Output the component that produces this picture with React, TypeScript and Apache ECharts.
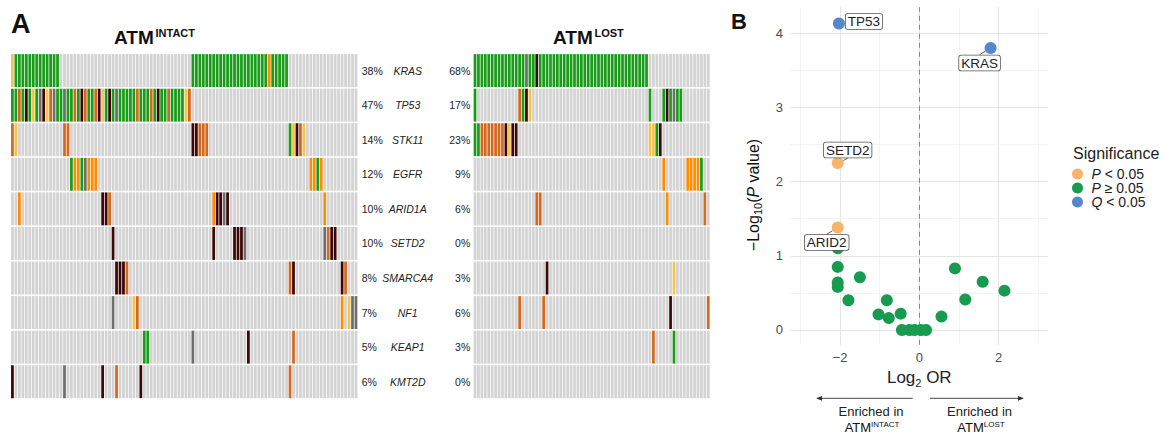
import React, { useEffect, useRef } from 'react';
import * as echarts from 'echarts';

// ---------------- Panel A data ----------------
const GENES = ['KRAS', 'TP53', 'STK11', 'EGFR', 'ARID1A', 'SETD2', 'SMARCA4', 'NF1', 'KEAP1', 'KMT2D'];
const PCT_INTACT = ['38%', '47%', '14%', '12%', '10%', '10%', '8%', '7%', '5%', '6%'];
const PCT_LOST = ['68%', '17%', '23%', '9%', '6%', '0%', '3%', '6%', '3%', '0%'];
const N_INTACT = 100;
const N_LOST = 69;
// mutation runs per gene: "col[-col]:code"  g=green o=orange d=dark orange y=yellow k=dark brown x=grey
const MUT_INTACT = [
  '0:y 1-13:g 52-73:g 74:o 75-79:g',
  '0-1:g 2:d 3:g 4:k 5:g 6:y 7:g 8:x 9:k 10:y 11:d 12:x 13-14:g 15:x 16-17:g 18:d 19:g 20:k 21:d 22-23:g 24:d 25:k 26:y 27:g 28:k 29:g 30:x 31-35:g 36:d 37-39:g 40:d 41:g 42:k 43-44:g 45:d 46-49:g 50:y 51:d',
  '0:d 1:y 15-16:d 52-53:k 54-56:d 80:g 81:y 82:k 83:d 84:y',
  '17:g 18-19:o 20:g 21:x 22-24:o 86-87:o 88:g 89:o',
  '2:o 26-27:k 28:d 58:o 59-60:k 61:x 62:k 90:o',
  '29:k 58:k 64-66:k 67:x 90:x 91:d 92-93:k',
  '30-32:k 33:d 80:d 81:k 95:k 96:d',
  '29:x 35:y 36:d 95:o 97:y 98-99:x',
  '38-39:g 52:x 68:k 81:d',
  '0:k 15:x 26:k 30:d 37:k 80:d',
];
const MUT_LOST = [
  '0-14:g 15:x 16-17:g 18:k 19-50:g',
  '0:g 13:d 14:g 15:k 16:y 51:g 55:g 56:k 57:g 58:x 59-60:g',
  '0-1:g 2-8:d 9:k 10:y 11-12:k 51-52:y 53:g 54:k',
  '55:o 62-65:o 66:g',
  '18-19:d 56:o 67:d',
  '',
  '21:k 58:y',
  '13:d 20:d 57:k 68:d',
  '52:d 58:g',
  '',
];
const CODES = ['.', 'g', 'o', 'd', 'y', 'k', 'x'];
const PALETTE = ['#d3d3d3', '#1a9c1a', '#ff8c00', '#d2691e', '#f3c452', '#3b0707', '#6e6e6e'];

// ---------------- Panel B data ----------------
const BLUE_NAMES = ['TP53', 'KRAS'];
const BLUE_LOG2OR = [-2.03, 1.8];
const BLUE_NLOGP = [4.13, 3.8];
const ORANGE_NAMES = ['SETD2', 'ARID2'];
const ORANGE_LOG2OR = [-2.06, -2.06];
const ORANGE_NLOGP = [2.25, 1.38];
const GREEN_LOG2OR = [-2.06, -2.06, -2.06, -2.06, -1.5, -1.79, -1.03, -0.82, -0.77, -0.47, -0.44, -0.25, -0.12, 0.04, 0.17, 0.56, 0.9, 1.16, 1.6, 2.15];
const GREEN_NLOGP = [1.1, 0.85, 0.64, 0.58, 0.71, 0.4, 0.21, 0.4, 0.16, 0.22, 0, 0, 0, 0, 0, 0.18, 0.83, 0.41, 0.65, 0.53];
const X_TICKS = [-2, 0, 2];
const Y_TICKS = [0, 1, 2, 3, 4];
const X_MAJOR = [-2, 0, 2];
const X_MINOR = [-3, -1, 1, 3];
const Y_MAJOR = [0, 1, 2, 3, 4];
const Y_MINOR = [0.5, 1.5, 2.5, 3.5];
const SERIES_NAMES = ['P < 0.05', 'P \u2265 0.05', 'Q < 0.05'];

const LABEL_SHIFT: Record<string, [number, number]> = {
  TP53: [25, -2],
  KRAS: [-11, 15],
  SETD2: [10, -13],
  ARID2: [-11, 15],
};

const FONT = 'Liberation Sans, Arial, Helvetica, sans-serif';

function buildCells(runs: string[], n: number) {
  const out: number[][] = [];
  runs.forEach((spec, row) => {
    const codes: number[] = new Array(n).fill(0);
    spec.split(/\s+/).filter(Boolean).forEach((tok) => {
      const [range, c] = tok.split(':');
      const parts = range.split('-').map(Number);
      const a = parts[0];
      const b = parts.length > 1 ? parts[1] : a;
      for (let i = a; i <= b; i++) codes[i] = CODES.indexOf(c);
    });
    codes.forEach((k, col) => out.push([col, row, k]));
  });
  return out;
}

const renderCell = (params: any, api: any) => {
  const col = api.value(0);
  const row = api.value(1);
  const k = api.value(2);
  const p = api.coord([col, row]);
  const s = api.size([1, 1]);
  return {
    type: 'rect',
    shape: { x: p[0] - s[0] / 2 + 0.35, y: p[1] - s[1] / 2 + 0.8, width: s[0] - 0.7, height: s[1] - 1.6 },
    style: { fill: PALETTE[k] },
  };
};

const fmtNum = (r: number) => (r < 0 ? '\u2212' + String(-r) : String(r));

function txt(x: number, y: number, text: string, size: number, opts: any = {}) {
  return {
    type: 'text',
    x,
    y,
    rotation: opts.rotation || 0,
    silent: true,
    style: {
      text,
      fontSize: size,
      fontFamily: FONT,
      fontWeight: opts.bold ? 'bold' : 'normal',
      fill: opts.color || '#111',
      align: opts.align || 'left',
      textAlign: opts.align || 'left',
      verticalAlign: 'middle',
      textVerticalAlign: 'middle',
      lineHeight: opts.lineHeight,
      rich: opts.rich,
    },
  };
}

function arrow(x1: number, x2: number, y: number) {
  const dir = x2 > x1 ? 1 : -1;
  return [
    { type: 'line', silent: true, shape: { x1, y1: y, x2: x2 - dir * 4, y2: y }, style: { stroke: '#333', lineWidth: 0.9 } },
    {
      type: 'polygon',
      silent: true,
      shape: { points: [[x2, y], [x2 - dir * 6, y - 2.4], [x2 - dir * 6, y + 2.4]] },
      style: { fill: '#333' },
    },
  ];
}

const supRich = {
  a: { fontSize: 13, lineHeight: 13, fontFamily: FONT, color: '#111' },
  s: { fontSize: 8, lineHeight: 8, verticalAlign: 'top', fontFamily: FONT, color: '#111' },
};

const yNameRich = {
  a: { fontSize: 16, lineHeight: 20, color: '#222', fontFamily: FONT },
  i: { fontSize: 16, lineHeight: 20, color: '#222', fontStyle: 'italic', fontFamily: FONT },
  s: { fontSize: 11, lineHeight: 9, verticalAlign: 'bottom', color: '#222', fontFamily: FONT },
};

export default function App() {
  const ref = useRef<HTMLDivElement>(null);
  useEffect(() => {
    const chart = echarts.init(ref.current!, null, { renderer: 'svg' });
    const cellsIntact = buildCells(MUT_INTACT, N_INTACT);
    const cellsLost = buildCells(MUT_LOST, N_LOST);

    const gridLineData: any[] = [
      ...X_MINOR.map((v) => ({ xAxis: v, lineStyle: { color: '#f0f0f0', width: 0.8, type: 'solid' } })),
      ...X_MAJOR.map((v) => ({ xAxis: v, lineStyle: { color: '#e5e5e5', width: 1, type: 'solid' } })),
      ...Y_MINOR.map((v) => ({ yAxis: v, lineStyle: { color: '#f0f0f0', width: 0.8, type: 'solid' } })),
      ...Y_MAJOR.map((v) => ({ yAxis: v, lineStyle: { color: '#e5e5e5', width: 1, type: 'solid' } })),
      { xAxis: 0, lineStyle: { color: '#888', width: 1, type: [5, 4] } },
    ];

    const labelCfg = {
      show: true,
      position: 'inside',
      formatter: '{b}',
      fontSize: 13.5,
      fontFamily: FONT,
      color: '#222',
      backgroundColor: '#fff',
      borderColor: '#555',
      borderWidth: 0.8,
      borderRadius: 2,
      padding: [1, 2, 0, 2],
      lineHeight: 14,
    };
    const labelLayout = (p: any) => {
      const sh = LABEL_SHIFT[p.text] || [0, 0];
      return { dx: sh[0], dy: sh[1] };
    };

    const option: any = {
      animation: false,
      backgroundColor: '#fff',
      textStyle: { fontFamily: FONT },
      grid: [
        { left: 10.7, top: 53.3, width: 347, height: 345.7, outerBoundsMode: 'none' },
        { left: 473.3, top: 53.3, width: 236.7, height: 345.7, outerBoundsMode: 'none' },
        { left: 790.6, top: 7.2, width: 257.4, height: 337.6, outerBoundsMode: 'none' },
      ],
      xAxis: [
        { gridIndex: 0, type: 'value', min: -0.5, max: N_INTACT - 0.5, show: false },
        { gridIndex: 1, type: 'value', min: -0.5, max: N_LOST - 0.5, show: false },
        {
          gridIndex: 2,
          type: 'value',
          min: -3.25,
          max: 3.25,
          interval: 0.25,
          axisLine: { show: false },
          axisTick: { show: false },
          splitLine: { show: false },
          axisLabel: {
            margin: 6,
            fontSize: 13,
            color: '#4d4d4d',
            formatter: (v: number) => {
              const r = Math.round(v * 1000) / 1000;
              return X_TICKS.indexOf(r) >= 0 ? fmtNum(r) : '';
            },
          },
          name: '{a|Log}{s|2}{a| OR}',
          nameLocation: 'middle',
          nameGap: 22,
          nameTextStyle: {
            color: '#222',
            rich: {
              a: { fontSize: 17, lineHeight: 22, color: '#222', fontFamily: FONT },
              s: { fontSize: 11, lineHeight: 10, verticalAlign: 'bottom', color: '#222', fontFamily: FONT },
            },
          },
        },
      ],
      yAxis: [
        {
          gridIndex: 0,
          type: 'category',
          data: GENES,
          inverse: true,
          position: 'right',
          axisLine: { show: false },
          axisTick: { show: false },
          splitLine: { show: false },
          axisLabel: {
            interval: 0,
            margin: 4,
            formatter: (v: string) => `{p|${PCT_INTACT[GENES.indexOf(v)]}}{g|${v}}`,
            rich: {
              p: { width: 24, fontSize: 10.5, color: '#222', align: 'left', fontFamily: FONT },
              g: { width: 44, fontSize: 10.5, fontStyle: 'italic', color: '#222', align: 'center', fontFamily: FONT },
            },
          },
        },
        {
          gridIndex: 1,
          type: 'category',
          data: GENES,
          inverse: true,
          position: 'left',
          axisLine: { show: false },
          axisTick: { show: false },
          splitLine: { show: false },
          axisLabel: {
            interval: 0,
            margin: 3,
            fontSize: 10.5,
            color: '#222',
            formatter: (v: string) => PCT_LOST[GENES.indexOf(v)],
          },
        },
        {
          gridIndex: 2,
          type: 'value',
          min: -0.2,
          max: 4.35,
          interval: 0.05,
          axisLine: { show: false },
          axisTick: { show: false },
          splitLine: { show: false },
          axisLabel: {
            margin: 7.5,
            fontSize: 13,
            color: '#4d4d4d',
            formatter: (v: number) => {
              const r = Math.round(v * 1000) / 1000;
              return Y_TICKS.indexOf(r) >= 0 ? String(r) : '';
            },
          },
        },
      ],
      legend: {
        data: SERIES_NAMES,
        orient: 'vertical',
        left: 1072,
        top: 167,
        padding: 0,
        itemWidth: 18,
        itemHeight: 11,
        itemGap: 0,
        icon: 'circle',
        selectedMode: false,
        formatter: (name: string) => `{i|${name[0]}}{n|${name.slice(1)}}`,
        textStyle: {
          color: '#222',
          rich: {
            i: { fontStyle: 'italic', fontSize: 14, lineHeight: 14, color: '#222', fontFamily: FONT },
            n: { fontSize: 14, lineHeight: 14, color: '#222', fontFamily: FONT },
          },
        },
      },
      series: [
        {
          type: 'custom',
          xAxisIndex: 0,
          yAxisIndex: 0,
          data: cellsIntact,
          encode: { x: 0, y: 1 },
          renderItem: renderCell,
          silent: true,
        },
        {
          type: 'custom',
          xAxisIndex: 1,
          yAxisIndex: 1,
          data: cellsLost,
          encode: { x: 0, y: 1 },
          renderItem: renderCell,
          silent: true,
        },
        {
          type: 'scatter',
          name: 'grid',
          xAxisIndex: 2,
          yAxisIndex: 2,
          data: [],
          z: 1,
          silent: true,
          markLine: {
            silent: true,
            symbol: ['none', 'none'],
            label: { show: false },
            emphasis: { disabled: true },
            data: gridLineData,
          },
        },
        {
          type: 'scatter',
          name: SERIES_NAMES[1],
          xAxisIndex: 2,
          yAxisIndex: 2,
          z: 10,
          symbolSize: 12,
          itemStyle: { color: '#179b4f', opacity: 1 },
          data: GREEN_LOG2OR.map((x, i) => [x, GREEN_NLOGP[i]]),
        },
        {
          type: 'scatter',
          name: SERIES_NAMES[0],
          xAxisIndex: 2,
          yAxisIndex: 2,
          z: 11,
          symbolSize: 12,
          itemStyle: { color: '#f9b36b', opacity: 1 },
          label: labelCfg,
          labelLine: { show: true, lineStyle: { color: '#333', width: 0.8 } },
          labelLayout,
          data: ORANGE_LOG2OR.map((x, i) => ({ name: ORANGE_NAMES[i], value: [x, ORANGE_NLOGP[i]] })),
        },
        {
          type: 'scatter',
          name: SERIES_NAMES[2],
          xAxisIndex: 2,
          yAxisIndex: 2,
          z: 12,
          symbolSize: 12,
          itemStyle: { color: '#5687cd', opacity: 1 },
          label: labelCfg,
          labelLine: { show: true, lineStyle: { color: '#333', width: 0.8 } },
          labelLayout,
          data: BLUE_LOG2OR.map((x, i) => ({ name: BLUE_NAMES[i], value: [x, BLUE_NLOGP[i]] })),
        },
      ],
      graphic: [
        txt(11, 23.5, 'A', 27, { bold: true }),
        txt(114, 37.5, 'ATM', 19, { bold: true }),
        txt(155.5, 33, 'INTACT', 11, { bold: true }),
        txt(553, 37.5, 'ATM', 19, { bold: true }),
        txt(594.5, 33, 'LOST', 11, { bold: true }),
        txt(731, 21, 'B', 22, { bold: true }),
        txt(753, 195, '{a|\u2212Log}{s|10}{a|(}{i|P}{a| value)}', 16, {
          align: 'center',
          rotation: Math.PI / 2,
          rich: yNameRich,
        }),
        txt(1073, 153, 'Significance', 16, { color: '#222' }),
        txt(871, 411, 'Enriched in', 13, { align: 'center', color: '#222', lineHeight: 13 }),
        txt(872, 427, '{a|ATM}{s|INTACT}', 13, { align: 'center', rich: supRich }),
        txt(979.5, 411, 'Enriched in', 13, { align: 'center', color: '#222', lineHeight: 13 }),
        txt(981, 427, '{a|ATM}{s|LOST}', 13, { align: 'center', rich: supRich }),
        ...arrow(912.7, 816, 398.3),
        ...arrow(930, 1024, 398.3),
      ],
    };
    chart.setOption(option);
    return () => chart.dispose();
  }, []);
  return (
    <div
      ref={ref}
      style={{ position: 'absolute', left: 0, top: 0, width: 1173, height: 439, background: '#fff' }}
    />
  );
}
